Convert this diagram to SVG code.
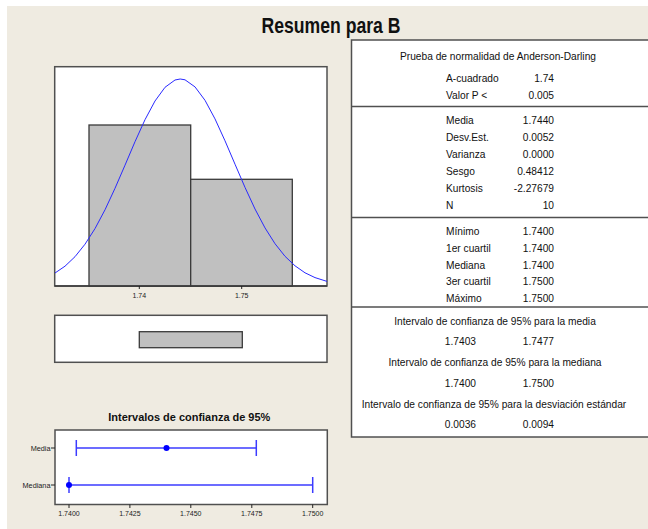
<svg xmlns="http://www.w3.org/2000/svg" width="648" height="529" viewBox="0 0 648 529">
<style>
.frame{fill:#fff;stroke:#505050;stroke-width:1.5}
.bar{fill:#c0c0c0;stroke:#3a3a3a;stroke-width:1.3}
.t{font-family:"Liberation Sans",Arial,sans-serif;font-size:10.2px;fill:#111}
.r{text-anchor:end}
.m{text-anchor:middle}
.sm{font-family:"Liberation Sans",Arial,sans-serif;font-size:7px;fill:#222}
.ci{stroke:#3b3bff;stroke-width:1.5;fill:none}
.tick{stroke:#222;stroke-width:1}
</style>
<rect x="0" y="0" width="648" height="529" fill="#ffffff"/>
<rect x="7" y="6" width="641" height="523" fill="#efebe1"/>
<g id="title">
<text x="331" y="33" text-anchor="middle" textLength="139" lengthAdjust="spacingAndGlyphs" style="font-family:'Liberation Sans',Arial,sans-serif;font-size:22px;font-weight:bold;fill:#111">Resumen para B</text>
</g>
<g id="histogram">
<rect class="frame" x="54.7" y="66.7" width="272.3" height="219.3"/>
<rect class="bar" x="89" y="125" width="101.7" height="161"/>
<rect class="bar" x="190.7" y="179.3" width="101.6" height="106.7"/>
<polyline fill="none" stroke="#2a2aff" stroke-width="1" stroke-linejoin="round" points="55,273 65,266.2 75,256.7 85,244.2 95,228.6 105,209.8 115,188.3 125,165.2 135,141.7 145,119.7 155,101 165,87.3 175,80 180.2,79 185,79.8 195,86.9 205,100.3 215,118.9 225,140.8 235,164.2 245,187.4 255,209 265,227.9 275,243.7 285,256.3 295,265.8 305,272.8 315,277.6 327,281.4"/>
<line x1="54.7" y1="286" x2="327" y2="286" stroke="#3a3a3a" stroke-width="1.5"/>
<line class="tick" x1="139.3" y1="286" x2="139.3" y2="289"/>
<line class="tick" x1="241.7" y1="286" x2="241.7" y2="289"/>
<text class="sm m" x="139.3" y="297.5">1.74</text>
<text class="sm m" x="241.7" y="297.5">1.75</text>
</g>
<g id="boxplot">
<rect class="frame" x="54.7" y="315.3" width="272.3" height="47"/>
<rect class="bar" x="139.3" y="331.7" width="103" height="16"/>
</g>
<g id="table">
<rect class="frame" x="351.5" y="40" width="300" height="397"/>
<line x1="351.5" y1="106.5" x2="648" y2="106.5" stroke="#505050" stroke-width="1.5"/>
<line x1="351.5" y1="217.5" x2="648" y2="217.5" stroke="#505050" stroke-width="1.5"/>
<line x1="351.5" y1="307" x2="648" y2="307" stroke="#505050" stroke-width="1.5"/>
<text class="t m" x="498" y="60">Prueba de normalidad de Anderson-Darling</text>
<text class="t" x="446" y="82">A-cuadrado</text><text class="t r" x="554" y="82">1.74</text>
<text class="t" x="446" y="98.5">Valor P &lt;</text><text class="t r" x="554" y="98.5">0.005</text>
<text class="t" x="446" y="124">Media</text><text class="t r" x="554" y="124">1.7440</text>
<text class="t" x="446" y="141">Desv.Est.</text><text class="t r" x="554" y="141">0.0052</text>
<text class="t" x="446" y="158">Varianza</text><text class="t r" x="554" y="158">0.0000</text>
<text class="t" x="446" y="175">Sesgo</text><text class="t r" x="554" y="175">0.48412</text>
<text class="t" x="446" y="192">Kurtosis</text><text class="t r" x="554" y="192">-2.27679</text>
<text class="t" x="446" y="209">N</text><text class="t r" x="554" y="209">10</text>
<text class="t" x="446" y="235">Mínimo</text><text class="t r" x="554" y="235">1.7400</text>
<text class="t" x="446" y="252">1er cuartil</text><text class="t r" x="554" y="252">1.7400</text>
<text class="t" x="446" y="268.5">Mediana</text><text class="t r" x="554" y="268.5">1.7400</text>
<text class="t" x="446" y="285">3er cuartil</text><text class="t r" x="554" y="285">1.7500</text>
<text class="t" x="446" y="302">Máximo</text><text class="t r" x="554" y="302">1.7500</text>
<text class="t m" x="495" y="324.5">Intervalo de confianza de 95% para la media</text>
<text class="t r" x="476" y="345">1.7403</text><text class="t r" x="554" y="345">1.7477</text>
<text class="t m" x="495" y="365.5">Intervalo de confianza de 95% para la mediana</text>
<text class="t r" x="476" y="386.5">1.7400</text><text class="t r" x="554" y="386.5">1.7500</text>
<text class="t m" x="494" y="407.5">Intervalo de confianza de 95% para la desviación estándar</text>
<text class="t r" x="476" y="428">0.0036</text><text class="t r" x="554" y="428">0.0094</text>
</g>
<g id="interval-plot">
<text x="189.3" y="421" text-anchor="middle" textLength="162" lengthAdjust="spacingAndGlyphs" style="font-family:'Liberation Sans',Arial,sans-serif;font-size:10.5px;font-weight:bold;fill:#111">Intervalos de confianza de 95%</text>
<rect class="frame" x="55" y="430" width="272.3" height="74.5"/>
<line class="tick" x1="51" y1="448" x2="55" y2="448"/>
<line class="tick" x1="51" y1="485" x2="55" y2="485"/>
<text class="sm r" x="50.5" y="450.5" style="font-size:7.3px">Media</text>
<text class="sm r" x="50.5" y="487.5" style="font-size:7.3px">Mediana</text>
<line class="ci" x1="76.3" y1="448" x2="256.3" y2="448"/>
<line class="ci" x1="76.3" y1="440" x2="76.3" y2="456"/>
<line class="ci" x1="256.3" y1="440" x2="256.3" y2="456"/>
<circle cx="166.5" cy="448" r="3" fill="#0000ff"/>
<line class="ci" x1="69" y1="485" x2="312.7" y2="485"/>
<line class="ci" x1="69" y1="477" x2="69" y2="493"/>
<line class="ci" x1="312.7" y1="477" x2="312.7" y2="493"/>
<circle cx="69" cy="485" r="3" fill="#0000ff"/>
<line class="tick" x1="69" y1="504.5" x2="69" y2="508"/>
<line class="tick" x1="129.9" y1="504.5" x2="129.9" y2="508"/>
<line class="tick" x1="190.8" y1="504.5" x2="190.8" y2="508"/>
<line class="tick" x1="251.8" y1="504.5" x2="251.8" y2="508"/>
<line class="tick" x1="312.7" y1="504.5" x2="312.7" y2="508"/>
<text class="sm m" x="69" y="516">1.7400</text>
<text class="sm m" x="129.9" y="516">1.7425</text>
<text class="sm m" x="190.8" y="516">1.7450</text>
<text class="sm m" x="251.8" y="516">1.7475</text>
<text class="sm m" x="312.7" y="516">1.7500</text>
</g>
</svg>
